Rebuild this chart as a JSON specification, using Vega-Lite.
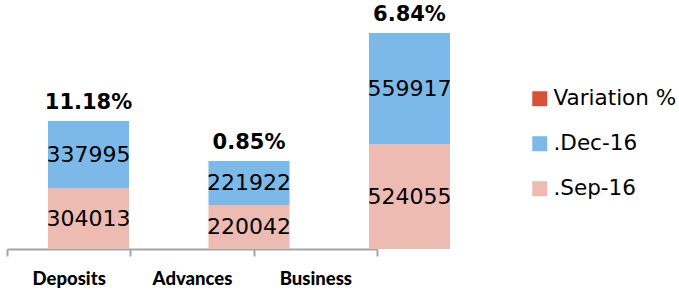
{
  "$schema": "https://vega.github.io/schema/vega-lite/v6.json",
  "autosize": {"type": "none"},
  "padding": {"left": 7, "top": 0, "right": 0, "bottom": 46},
  "width": 672,
  "height": 249,
  "background": "white",
  "config": {"view": {"stroke": null}, "font": "DejaVu Sans"},
  "data": {"values": [
    {"category": "Deposits", "series": ".Sep-16", "value": 304013, "variation": 0.1118},
    {"category": "Deposits", "series": ".Dec-16", "value": 337995, "variation": 0.1118},
    {"category": "Advances", "series": ".Sep-16", "value": 220042, "variation": 0.0085},
    {"category": "Advances", "series": ".Dec-16", "value": 221922, "variation": 0.0085},
    {"category": "Business", "series": ".Sep-16", "value": 524055, "variation": 0.0684},
    {"category": "Business", "series": ".Dec-16", "value": 559917, "variation": 0.0684}
  ]},
  "resolve": {"scale": {"x": "independent"}, "axis": {"x": "independent"}},
  "layer": [
    {
      "mark": {"type": "tick", "opacity": 0},
      "encoding": {
        "x": {"field": "category", "type": "nominal", "sort": ["Deposits", "Advances", "Business"],
              "scale": {"type": "band", "range": [0, 370], "paddingInner": 0, "paddingOuter": 0},
              "axis": {"title": null, "labelAngle": 0, "domainColor": "#A6A6A6", "domainWidth": 2,
                       "tickColor": "#A6A6A6", "tickWidth": 2, "tickSize": 7, "tickBand": "extent",
                       "labelFont": "Lato", "labelFontWeight": 900, "labelFontSize": 18.5,
                       "labelColor": "black", "labelPadding": 13}}
      }
    },
    {
      "mark": {"type": "bar"},
      "encoding": {
        "x": {"field": "category", "type": "nominal", "sort": ["Deposits", "Advances", "Business"],
              "scale": {"type": "band", "range": [41, 443], "paddingInner": 0.495, "paddingOuter": 0}, "axis": null},
        "y": {"field": "value", "type": "quantitative", "stack": "zero",
              "scale": {"domain": [0, 1250000], "nice": false}, "axis": null},
        "color": {"field": "series", "type": "nominal",
                  "scale": {"domain": ["Variation %", ".Dec-16", ".Sep-16"], "range": ["#D4533A", "#7DB9E8", "#EDBBB1"]},
                  "legend": {"title": null, "orient": "none", "legendX": 522, "legendY": 88,
                             "symbolType": "square", "symbolSize": 225, "symbolStrokeWidth": 0, "symbolOpacity": 1,
                             "labelFontSize": 21.5, "labelFont": "DejaVu Sans", "labelColor": "black",
                             "rowPadding": 22, "labelOffset": 3, "padding": 0}},
        "order": {"field": "series", "sort": "descending"}
      }
    },
    {
      "mark": {"type": "text", "fontSize": 22, "color": "black", "font": "DejaVu Sans"},
      "transform": [
        {"stack": "value", "groupby": ["category"], "sort": [{"field": "series", "order": "descending"}], "as": ["v0", "v1"]},
        {"calculate": "(datum.v0 + datum.v1) / 2", "as": "mid"}
      ],
      "encoding": {
        "x": {"field": "category", "type": "nominal", "sort": ["Deposits", "Advances", "Business"],
              "scale": {"type": "band", "range": [41, 443], "paddingInner": 0.495, "paddingOuter": 0}, "axis": null},
        "y": {"field": "mid", "type": "quantitative"},
        "text": {"field": "value", "type": "quantitative", "format": "d"}
      }
    },
    {
      "mark": {"type": "text", "fontSize": 21, "fontWeight": "bold", "color": "black", "font": "DejaVu Sans", "dy": -18},
      "encoding": {
        "x": {"field": "category", "type": "nominal", "sort": ["Deposits", "Advances", "Business"],
              "scale": {"type": "band", "range": [41, 443], "paddingInner": 0.495, "paddingOuter": 0}, "axis": null},
        "y": {"aggregate": "sum", "field": "value", "type": "quantitative"},
        "text": {"aggregate": "max", "field": "variation", "type": "quantitative", "format": ".2%"}
      }
    }
  ]
}
